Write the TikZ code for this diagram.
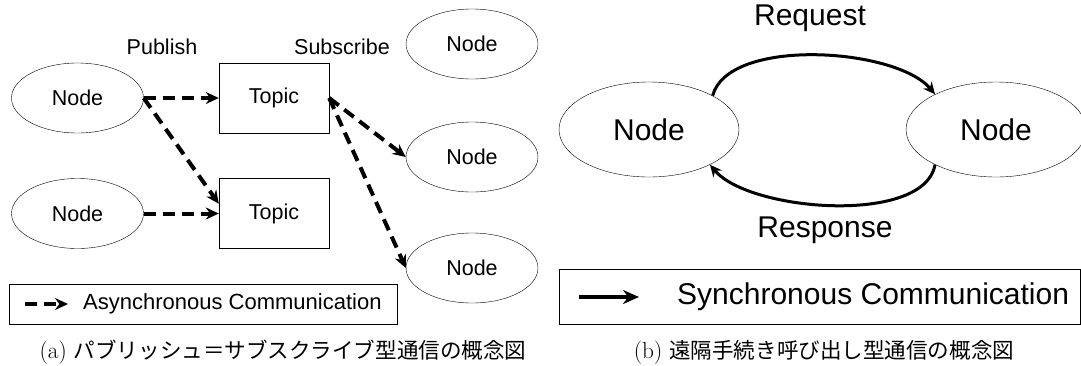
\documentclass[tikz,border=0pt]{standalone}
\usepackage{fontspec}
\setsansfont{Liberation Sans}
\newfontfamily\jpfont[Scale=0.925]{Noto Sans CJK JP}
\usetikzlibrary{shapes.geometric,arrows.meta}

\tikzset{
  nodeell/.style={draw, ellipse, inner sep=0pt, minimum width=132pt, minimum height=70pt,
    font=\sffamily\fontsize{21.5}{24}\selectfont},
  bignodeell/.style={draw, ellipse, inner sep=0pt, minimum width=180pt, minimum height=95pt,
    font=\sffamily\fontsize{30}{34}\selectfont},
  topicbox/.style={draw, rectangle, inner sep=0pt, minimum width=110pt, minimum height=70pt,
    font=\sffamily\fontsize{21.5}{24}\selectfont},
  label/.style={inner sep=0pt, font=\sffamily\fontsize{21.5}{24}\selectfont},
  biglabel/.style={inner sep=0pt, font=\sffamily\fontsize{30}{34}\selectfont},
  async/.style={line width=4pt, dash pattern=on 12pt off 7pt, -{Stealth[length=13pt,width=12pt]}},
  sync/.style={line width=3pt, -{Stealth[length=12pt,width=11pt]}},
  caption/.style={inner sep=0pt, font=\fontsize{23.3}{27}\selectfont},
}

\begin{document}
\begin{tikzpicture}[x=1pt,y=-1pt]
\useasboundingbox (0,0) rectangle (1081,365);

% (a) publish/subscribe
\node[label] (pub) at (162,47) {Publish};
\node[label] (sub) at (342,47) {Subscribe};

\node[nodeell] (n1) at (77.5,98) {Node};
\node[nodeell] (n2) at (77.5,213.5) {Node};
\node[topicbox] (t1) at (274,98) {Topic};
\node[topicbox] (t2) at (274,213.5) {Topic};
\node[nodeell] (n3) at (472,44) {Node};
\node[nodeell] (n4) at (472,157) {Node};
\node[nodeell] (n5) at (472,268) {Node};

\path[draw,async] (n1.east) -- (t1.west);
\path[draw,async] (n1.east) -- (t2.170);
\path[draw,async] (n2.east) -- (t2.west);
\path[draw,async] (t1.east) -- (n4.west);
\path[draw,async] (t1.east) -- (n5.west);

\node[draw, rectangle, minimum width=388pt, minimum height=40pt] (lega) at (203,304) {};
\coordinate (la1) at (25,304);
\coordinate (la2) at (68,304);
\path[draw,async] (la1) -- (la2);
\node[label, anchor=west, font=\sffamily\fontsize{22}{25}\selectfont] (lta) at (83,304) {Asynchronous Communication};

\node[caption] (capa) at (283,352) {(a) {\jpfont パブリッシュ＝サブスクライブ型通信の概念図}};

% (b) remote procedure call
\node[bignodeell] (m1) at (649,129.5) {Node};
\node[bignodeell] (m2) at (996,129.5) {Node};
\node[biglabel] (req) at (810,18) {Request};
\node[biglabel] (res) at (825,230) {Response};

\path[draw,sync] (m1.28) to[out=75,in=130,looseness=0.7] (m2.150);
\path[draw,sync] (m2.210) to[out=-100,in=-50,looseness=0.7] (m1.330);

\node[draw, rectangle, minimum width=521pt, minimum height=55pt] (legb) at (819.5,296.5) {};
\coordinate (lb1) at (579,297);
\coordinate (lb2) at (639,297);
\path[draw, line width=4pt, -{Stealth[length=16pt,width=14pt]}] (lb1) -- (lb2);
\node[biglabel, anchor=west] (ltb) at (677,297) {Synchronous Communication};

\node[caption] (capb) at (824,352) {(b) {\jpfont 遠隔手続き呼び出し型通信の概念図}};
\end{tikzpicture}
\end{document}
